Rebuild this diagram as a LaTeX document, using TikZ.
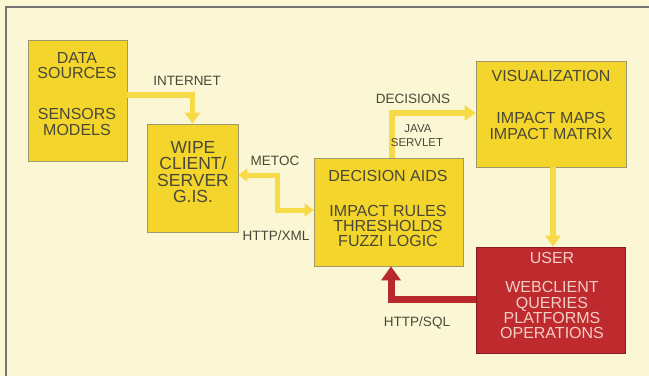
\documentclass[tikz,border=0pt]{standalone}
\usepackage{fontspec}
\setmainfont{Liberation Sans}
\usetikzlibrary{arrows.meta}
\definecolor{bg}{HTML}{FBF6D3}
\definecolor{boxy}{HTML}{F3D52B}
\definecolor{arry}{HTML}{F6DA48}
\definecolor{boxr}{HTML}{BE2A2E}
\definecolor{arrr}{HTML}{B8282C}
\definecolor{ink}{HTML}{4A4838}
\definecolor{pinkink}{HTML}{F2CFC4}
\tikzset{
  ybox/.style={draw=black!45!olive!60, line width=0.8pt, fill=boxy, inner sep=0pt},
  rbox/.style={draw=boxr!70!black, line width=0.8pt, fill=boxr, inner sep=0pt},
  bt/.style={anchor=base, inner sep=0pt, text=ink, font=\fontsize{16}{18}\selectfont},
  wt/.style={bt, font=\fontsize{17.5}{19}\selectfont},
  ut/.style={bt, text=pinkink},
  lt/.style={anchor=base, inner sep=0pt, text=ink, font=\fontsize{13.5}{15}\selectfont},
  st/.style={anchor=base, inner sep=0pt, text=ink, font=\fontsize{11.5}{13}\selectfont},
  yarrow/.style={draw=arry, line width=5.5pt, -{Triangle[width=15pt,length=11pt,fill=arry]}},
  ydarrow/.style={draw=arry, line width=5pt, {Triangle[width=13pt,length=9pt,fill=arry]}-{Triangle[width=13pt,length=9pt,fill=arry]}},
  rarrow/.style={draw=arrr, line width=7pt, -{Triangle[width=19pt,length=14pt,fill=arrr]}},
  frameline/.style={draw=black!55, line width=1.4pt}
}
\begin{document}
\begin{tikzpicture}[x=1pt,y=-1pt]
\useasboundingbox[fill=bg] (0,0) rectangle (649,376);
\draw[frameline] (6,376) -- (6,7) -- (649,7);

% boxes
\node[ybox, minimum width=99pt, minimum height=121pt] (ds) at (77.5,100.5) {};
\node[ybox, minimum width=91pt, minimum height=108pt] (wipe) at (192.5,178) {};
\node[ybox, minimum width=149pt, minimum height=108pt] (da) at (388.5,212) {};
\node[ybox, minimum width=150pt, minimum height=106pt] (vis) at (551,114) {};
\node[rbox, minimum width=149pt, minimum height=106pt] (user) at (550.5,300) {};

% box texts
\node[bt] (ds1) at (77,63.7) {DATA};
\node[bt] (ds2) at (77,78.7) {SOURCES};
\node[bt] (ds3) at (77,119.7) {SENSORS};
\node[bt] (ds4) at (77,135.7) {MODELS};

\node[wt] (wp1) at (193,153.2) {WIPE};
\node[wt] (wp2) at (193,169.2) {CLIENT/};
\node[wt] (wp3) at (193,186.2) {SERVER};
\node[wt] (wp4) at (193,202.2) {G.IS.};

\node[bt] (da1) at (388,181.7) {DECISION AIDS};
\node[bt] (da2) at (388,216.7) {IMPACT RULES};
\node[bt] (da3) at (388,231.7) {THRESHOLDS};
\node[bt] (da4) at (388,246.7) {FUZZI LOGIC};

\node[bt] (vs1) at (551,81.7) {VISUALIZATION};
\node[bt] (vs2) at (551,123.7) {IMPACT MAPS};
\node[bt] (vs3) at (551,139.7) {IMPACT MATRIX};

\node[ut] (us1) at (552,263.7) {USER};
\node[ut] (us2) at (552,292.7) {WEBCLIENT};
\node[ut] (us3) at (552,308.7) {QUERIES};
\node[ut] (us4) at (552,323.7) {PLATFORMS};
\node[ut] (us5) at (552,338.7) {OPERATIONS};

% connectors
\draw[yarrow] (ds.east |- 0,95) -| (wipe.north);
\draw[ydarrow] (wipe.east |- 0,175) -- (277,175) -- (277,210) -- (da.west |- 0,210);
\draw[yarrow] (da.north -| 392,0) |- (vis.west |- 0,113);
\draw[yarrow] (vis.south -| 553,0) -- (user.north -| 553,0);
\draw[rarrow] (user.west |- 0,299) -| (da.south -| 391,0);

% labels
\node[lt] (l1) at (187,85.8) {INTERNET};
\node[lt] (l2) at (275,165.8) {METOC};
\node[lt] (l3) at (276,240.8) {HTTP/XML};
\node[lt] (l4) at (413,103.8) {DECISIONS};
\node[st] (l5) at (418,132.2) {JAVA};
\node[st] (l6) at (417,146.2) {SERVLET};
\node[lt] (l7) at (417,326.8) {HTTP/SQL};
\end{tikzpicture}
\end{document}
